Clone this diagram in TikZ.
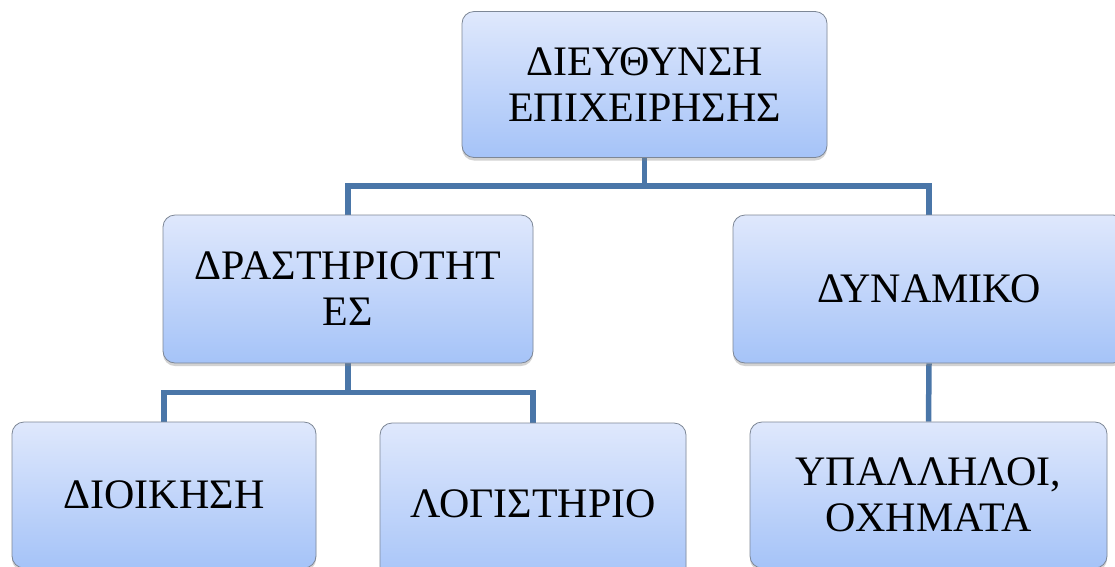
\documentclass[tikz,border=0pt]{standalone}
\usepackage{fontspec}
\setmainfont{Liberation Serif}
\usetikzlibrary{shadows,backgrounds}
\definecolor{boxtop}{HTML}{DFE8FC}
\definecolor{boxbot}{HTML}{A5C3F8}
\definecolor{boxedge}{HTML}{7D8796}
\definecolor{connblue}{HTML}{4A76A8}
\begin{document}
\begin{tikzpicture}[x=1pt,y=-1pt,
  orgbox/.style={draw=boxedge, line width=0.8pt, rounded corners=12pt,
    top color=boxtop, bottom color=boxbot, align=center,
    inner sep=0pt, font=\fontsize{42}{46}\selectfont,
    drop shadow={shadow xshift=0pt, shadow yshift=-3pt, opacity=0.35}},
  conn/.style={draw=connblue, line width=5.5pt}]
\clip (0,0) rectangle (1115,566);
\useasboundingbox (0,0) rectangle (1115,566);
\node[orgbox, minimum width=365pt, minimum height=146pt] (b1) at (644.5,84.5) {ΔΙΕΥΘΥΝΣΗ\\ΕΠΙΧΕΙΡΗΣΗΣ};
\node[orgbox, minimum width=370pt, minimum height=148pt] (b2) at (348,289) {ΔΡΑΣΤΗΡΙΟΤΗΤ\\ΕΣ};
\node[orgbox, minimum width=392pt, minimum height=148pt] (b3) at (929,289) {ΔΥΝΑΜΙΚΟ};
\node[orgbox, minimum width=304pt, minimum height=146pt] (b4) at (164,495) {ΔΙΟΙΚΗΣΗ};
\node[orgbox, minimum width=306pt, minimum height=162pt] (b5) at (533,504) {ΛΟΓΙΣΤΗΡΙΟ};
\node[orgbox, minimum width=357pt, minimum height=146pt] (b6) at (928.5,495) {ΥΠΑΛΛΗΛΟΙ,\\ΟΧΗΜΑΤΑ};
\coordinate (j1) at (644.5,186);
\coordinate (j2) at (348,392.5);
\begin{scope}[on background layer]
\fill[white] (0,0) rectangle (1115,566);
\draw[conn] (b1.south) -- (j1);
\draw[conn] (b2.north) |- (j1) -| (b3.north);
\draw[conn] (b2.south) -- (j2);
\draw[conn] (b4.north) |- (j2) -| (b5.north);
\draw[conn] (b3.south) -- (b6.north);
\end{scope}
\end{tikzpicture}
\end{document}
